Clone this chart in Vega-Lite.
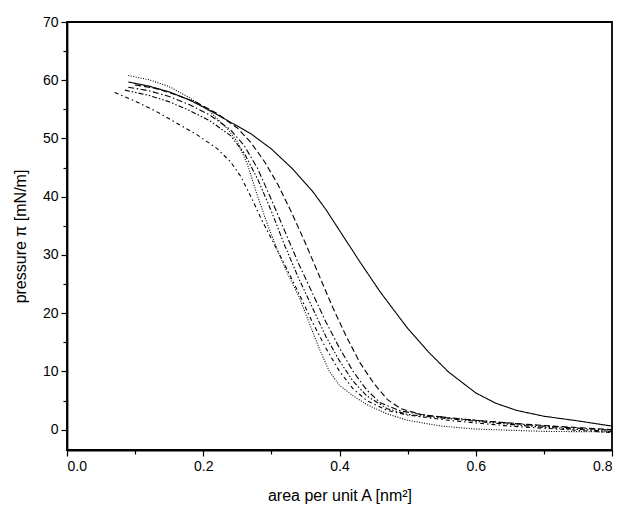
{
  "$schema": "https://vega.github.io/schema/vega-lite/v6.json",
  "width": 545,
  "height": 428,
  "autosize": {"type": "none"},
  "padding": {"left": 67, "top": 22, "right": 16, "bottom": 58},
  "background": "white",
  "config": {
    "view": {"stroke": "black", "strokeWidth": 1.8},
    "font": "Liberation Sans",
    "axis": {
      "domainColor": "black", "domainWidth": 1.8, "tickColor": "black", "tickWidth": 1.2,
      "labelColor": "black", "titleColor": "black", "labelFont": "Liberation Sans", "titleFont": "Liberation Sans",
      "labelFontSize": 14, "titleFontSize": 16, "titleFontWeight": "normal", "grid": false
    }
  },
  "data": {"values": [
    {"s":"A","x":0.09,"y":59.7},{"s":"A","x":0.12,"y":59.0},{"s":"A","x":0.15,"y":58.0},{"s":"A","x":0.18,"y":56.6},{"s":"A","x":0.21,"y":54.8},{"s":"A","x":0.24,"y":52.8},{"s":"A","x":0.27,"y":50.8},{"s":"A","x":0.30,"y":48.2},{"s":"A","x":0.33,"y":44.9},{"s":"A","x":0.36,"y":41.0},{"s":"A","x":0.38,"y":37.8},{"s":"A","x":0.40,"y":34.2},{"s":"A","x":0.43,"y":28.8},{"s":"A","x":0.46,"y":23.6},{"s":"A","x":0.50,"y":17.4},{"s":"A","x":0.53,"y":13.4},{"s":"A","x":0.56,"y":9.9},{"s":"A","x":0.60,"y":6.3},{"s":"A","x":0.63,"y":4.5},{"s":"A","x":0.66,"y":3.3},{"s":"A","x":0.70,"y":2.3},{"s":"A","x":0.75,"y":1.5},{"s":"A","x":0.80,"y":0.6},
    {"s":"B","x":0.09,"y":60.8},{"s":"B","x":0.12,"y":60.1},{"s":"B","x":0.15,"y":58.9},{"s":"B","x":0.18,"y":57.0},{"s":"B","x":0.21,"y":54.6},{"s":"B","x":0.235,"y":51.7},{"s":"B","x":0.25,"y":49.5},{"s":"B","x":0.265,"y":45.5},{"s":"B","x":0.28,"y":40.0},{"s":"B","x":0.295,"y":35.0},{"s":"B","x":0.31,"y":30.5},{"s":"B","x":0.325,"y":26.5},{"s":"B","x":0.34,"y":23.0},{"s":"B","x":0.355,"y":18.5},{"s":"B","x":0.37,"y":14.0},{"s":"B","x":0.385,"y":10.0},{"s":"B","x":0.40,"y":7.6},{"s":"B","x":0.42,"y":5.8},{"s":"B","x":0.44,"y":4.3},{"s":"B","x":0.47,"y":2.7},{"s":"B","x":0.50,"y":1.6},{"s":"B","x":0.55,"y":0.6},{"s":"B","x":0.60,"y":0.1},{"s":"B","x":0.65,"y":-0.1},{"s":"B","x":0.70,"y":-0.3},{"s":"B","x":0.80,"y":-0.4},
    {"s":"C","x":0.10,"y":59.2},{"s":"C","x":0.13,"y":58.6},{"s":"C","x":0.16,"y":57.5},{"s":"C","x":0.19,"y":56.2},{"s":"C","x":0.22,"y":54.3},{"s":"C","x":0.25,"y":51.8},{"s":"C","x":0.27,"y":49.3},{"s":"C","x":0.29,"y":46.0},{"s":"C","x":0.31,"y":42.0},{"s":"C","x":0.33,"y":37.2},{"s":"C","x":0.35,"y":32.0},{"s":"C","x":0.37,"y":26.5},{"s":"C","x":0.39,"y":21.0},{"s":"C","x":0.41,"y":16.0},{"s":"C","x":0.43,"y":11.5},{"s":"C","x":0.45,"y":8.0},{"s":"C","x":0.47,"y":5.2},{"s":"C","x":0.49,"y":3.6},{"s":"C","x":0.52,"y":2.6},{"s":"C","x":0.56,"y":2.0},{"s":"C","x":0.62,"y":1.4},{"s":"C","x":0.70,"y":0.7},{"s":"C","x":0.80,"y":0.0},
    {"s":"D","x":0.09,"y":58.8},{"s":"D","x":0.12,"y":58.2},{"s":"D","x":0.15,"y":57.2},{"s":"D","x":0.18,"y":55.8},{"s":"D","x":0.21,"y":54.0},{"s":"D","x":0.24,"y":51.5},{"s":"D","x":0.26,"y":48.8},{"s":"D","x":0.28,"y":44.8},{"s":"D","x":0.30,"y":39.5},{"s":"D","x":0.32,"y":34.0},{"s":"D","x":0.34,"y":28.5},{"s":"D","x":0.36,"y":23.5},{"s":"D","x":0.38,"y":18.5},{"s":"D","x":0.40,"y":14.0},{"s":"D","x":0.42,"y":10.0},{"s":"D","x":0.44,"y":6.8},{"s":"D","x":0.46,"y":4.6},{"s":"D","x":0.49,"y":3.2},{"s":"D","x":0.53,"y":2.4},{"s":"D","x":0.60,"y":1.6},{"s":"D","x":0.70,"y":0.6},{"s":"D","x":0.80,"y":-0.1},
    {"s":"E","x":0.085,"y":58.3},{"s":"E","x":0.12,"y":57.4},{"s":"E","x":0.15,"y":56.3},{"s":"E","x":0.18,"y":54.8},{"s":"E","x":0.21,"y":53.0},{"s":"E","x":0.24,"y":50.5},{"s":"E","x":0.26,"y":47.5},{"s":"E","x":0.28,"y":43.0},{"s":"E","x":0.30,"y":37.5},{"s":"E","x":0.32,"y":31.5},{"s":"E","x":0.34,"y":26.0},{"s":"E","x":0.36,"y":21.0},{"s":"E","x":0.38,"y":16.0},{"s":"E","x":0.40,"y":11.8},{"s":"E","x":0.42,"y":8.3},{"s":"E","x":0.44,"y":5.8},{"s":"E","x":0.47,"y":3.6},{"s":"E","x":0.50,"y":2.6},{"s":"E","x":0.55,"y":2.0},{"s":"E","x":0.62,"y":1.2},{"s":"E","x":0.70,"y":0.4},{"s":"E","x":0.80,"y":-0.3},
    {"s":"F","x":0.07,"y":57.9},{"s":"F","x":0.10,"y":56.4},{"s":"F","x":0.13,"y":54.7},{"s":"F","x":0.16,"y":52.7},{"s":"F","x":0.19,"y":50.7},{"s":"F","x":0.22,"y":48.3},{"s":"F","x":0.24,"y":46.0},{"s":"F","x":0.255,"y":43.5},{"s":"F","x":0.27,"y":40.0},{"s":"F","x":0.285,"y":36.2},{"s":"F","x":0.30,"y":32.8},{"s":"F","x":0.32,"y":28.2},{"s":"F","x":0.34,"y":23.5},{"s":"F","x":0.36,"y":18.5},{"s":"F","x":0.38,"y":14.0},{"s":"F","x":0.40,"y":10.0},{"s":"F","x":0.42,"y":7.0},{"s":"F","x":0.44,"y":5.0},{"s":"F","x":0.47,"y":3.3},{"s":"F","x":0.50,"y":2.5},{"s":"F","x":0.56,"y":1.6},{"s":"F","x":0.65,"y":0.6},{"s":"F","x":0.80,"y":-0.5}
  ]},
  "layer": [
    {
      "mark": {"type": "line", "color": "black", "strokeWidth": 1.1, "clip": true},
      "encoding": {
        "x": {"field": "x", "type": "quantitative", "scale": {"domain": [0, 0.8], "nice": false, "zero": false},
          "axis": {"values": [0, 0.2, 0.4, 0.6, 0.8], "format": ".1f", "tickSize": 6, "labelPadding": 3, "title": "area per unit A [nm²]", "titlePadding": 14, "orient": "bottom"}},
        "y": {"field": "y", "type": "quantitative", "scale": {"domain": [-3.5, 70], "nice": false, "zero": false},
          "axis": {"values": [0, 10, 20, 30, 40, 50, 60, 70], "format": "d", "tickSize": 6, "labelPadding": 3, "title": "pressure π [mN/m]", "titlePadding": 14, "orient": "left"}},
        "strokeDash": {"field": "s", "type": "nominal", "legend": null,
          "scale": {"domain": ["A", "B", "C", "D", "E", "F"], "range": [[1, 0], [1, 1.5], [6, 3], [6, 2.5, 1.5, 2.5], [5, 2, 1.5, 2, 1.5, 2], [4, 3, 1.5, 3]]}}
      }
    },
    {
      "mark": {"type": "line", "opacity": 0},
      "encoding": {
        "x": {"field": "x", "type": "quantitative", "axis": {"values": [0.1, 0.3, 0.5, 0.7], "labels": false, "domain": false, "tickSize": 4, "title": null, "orient": "bottom"}},
        "y": {"field": "y", "type": "quantitative", "axis": {"values": [-5, 5, 15, 25, 35, 45, 55, 65], "labels": false, "domain": false, "tickSize": 4, "title": null, "orient": "left"}},
        "detail": {"field": "s"}
      }
    }
  ],
  "resolve": {"axis": {"x": "independent", "y": "independent"}}
}
